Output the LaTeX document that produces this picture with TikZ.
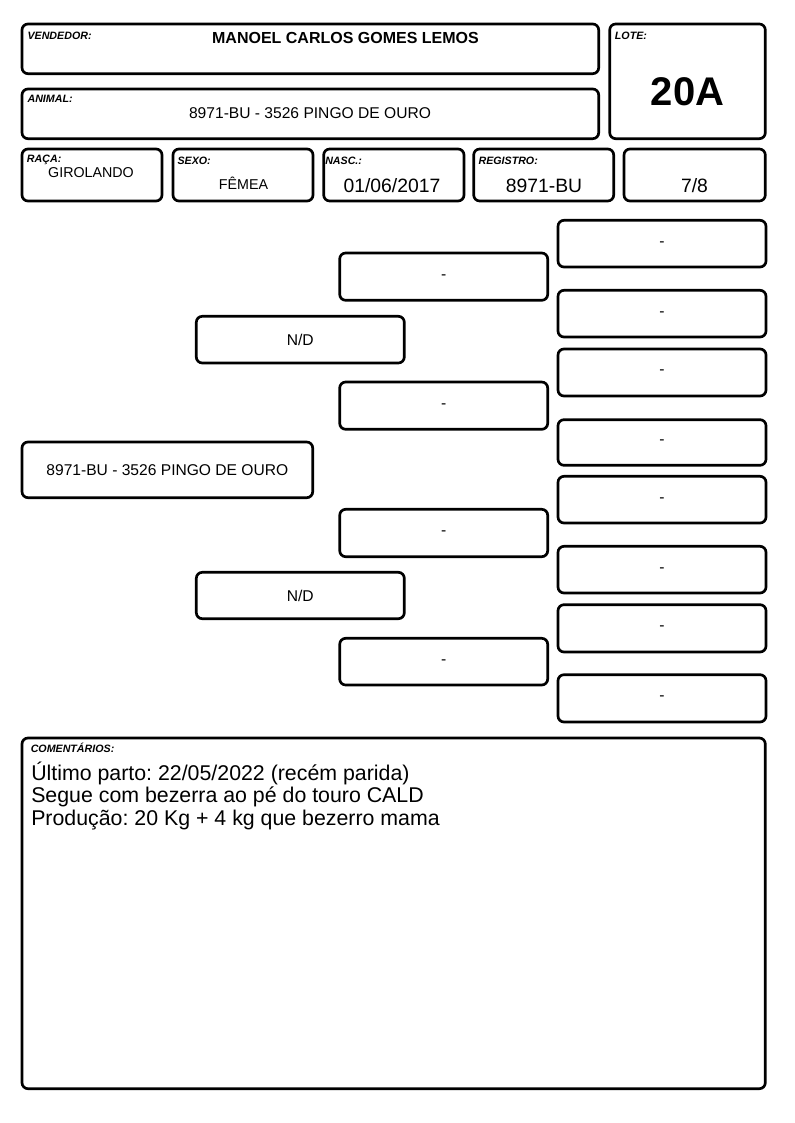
\documentclass[tikz,border=0pt]{standalone}
\usepackage{fontspec}
\setmainfont{Liberation Sans}
\frenchspacing
\newcommand\fs[1]{\fontsize{#1}{#1}\selectfont}
\newcommand\cellbox[6]{\node[cell, minimum width={(#4-#2)*0.75pt}, minimum height={(#5-#3)*0.75pt}] (#1) at ({(#2+#4)/2},{(#3+#5)/2}) {#6};}
\begin{document}
\begin{tikzpicture}[x=0.75pt,y=-0.75pt,
  cell/.style={draw=black, line width=2pt, rounded corners=4.5pt, inner sep=0pt, outer sep=0pt, fill=white, font=\fs{11.7}, align=center},
  lbl/.style={inner sep=0pt, font=\fs{8}\bfseries\itshape, anchor=base west},
  val/.style={inner sep=0pt, anchor=base},
  com/.style={inner sep=0pt, anchor=base west, font=\fs{16}}]
\useasboundingbox[fill=white] (0,0) rectangle (794,1123);
% header boxes
\cellbox{vend}{22}{24}{598.7}{73.7}{}
\cellbox{anim}{22}{89}{598.7}{138.7}{}
\cellbox{lote}{609.7}{24}{765.3}{138.7}{}
\cellbox{raca}{22}{149}{162}{201}{}
\cellbox{sexo}{173}{149}{313}{201}{}
\cellbox{nasc}{323.7}{149}{464}{201}{}
\cellbox{regi}{473.7}{149}{613.7}{201}{}
\cellbox{grau}{624}{149}{765.3}{201}{}
\node[lbl] (lvend) at (27.3,39.3) {VENDEDOR:};
\node[val, font=\fs{12}\bfseries] (tvend) at (345.5,43.3) {MANOEL CARLOS GOMES LEMOS};
\node[lbl] (lanim) at (27.3,102.7) {ANIMAL:};
\node[val, font=\fs{11.7}] (tanim) at (310,119) {8971-BU - 3526 PINGO DE OURO};
\node[lbl] (llote) at (614.7,39.3) {LOTE:};
\node[val, font=\fs{30}\bfseries] (tlote) at (687.5,106) {20A};
\node[lbl] (lraca) at (26.7,162.3) {RAÇA:};
\node[val, font=\fs{10.7}] (traca) at (91,177.7) {GIROLANDO};
\node[lbl] (lsexo) at (177.3,165) {SEXO:};
\node[val, font=\fs{10.7}] (tsexo) at (243.5,189.3) {FÊMEA};
\node[lbl] (lnasc) at (325,165) {NASC.:};
\node[val, font=\fs{14.5}] (tnasc) at (392,192.7) {01/06/2017};
\node[lbl] (lregi) at (478.3,165) {REGISTRO:};
\node[val, font=\fs{14.5}] (tregi) at (544,192.7) {8971-BU};
\node[val, font=\fs{14.5}] (tgrau) at (694.5,192.7) {7/8};
% pedigree
\cellbox{main}{22}{442}{312.7}{497.7}{8971-BU - 3526 PINGO DE OURO}
\cellbox{p1}{196.3}{316.3}{404.3}{363}{N/D}
\cellbox{p2}{196.3}{572.3}{404.3}{618.7}{N/D}
\cellbox{g1}{339.7}{253}{547.7}{300.3}{-}
\cellbox{g2}{339.7}{382}{547.7}{429.3}{-}
\cellbox{g3}{339.7}{509.3}{547.7}{556.7}{-}
\cellbox{g4}{339.7}{638.3}{547.7}{685}{-}
\cellbox{h1}{558}{220.3}{766}{267}{-}
\cellbox{h2}{558}{290.3}{766}{337}{-}
\cellbox{h3}{558}{349}{766}{396}{-}
\cellbox{h4}{558}{419.7}{766}{465.3}{-}
\cellbox{h5}{558}{476.3}{766}{523}{-}
\cellbox{h6}{558}{546.3}{766}{593}{-}
\cellbox{h7}{558}{604.7}{766}{652}{-}
\cellbox{h8}{558}{674.7}{766}{722}{-}
% comments
\cellbox{coment}{22}{738}{765.3}{1088.7}{}
\node[lbl] (lcom) at (30.5,752.3) {COMENTÁRIOS:};
\node[com] (tcom1) at (31,780) {Último parto: 22/05/2022 (recém parida)};
\node[com] (tcom2) at (31,802.5) {Segue com bezerra ao pé do touro CALD};
\node[com] (tcom3) at (31,825) {Produção: 20 Kg + 4 kg que bezerro mama};
\end{tikzpicture}
\end{document}
